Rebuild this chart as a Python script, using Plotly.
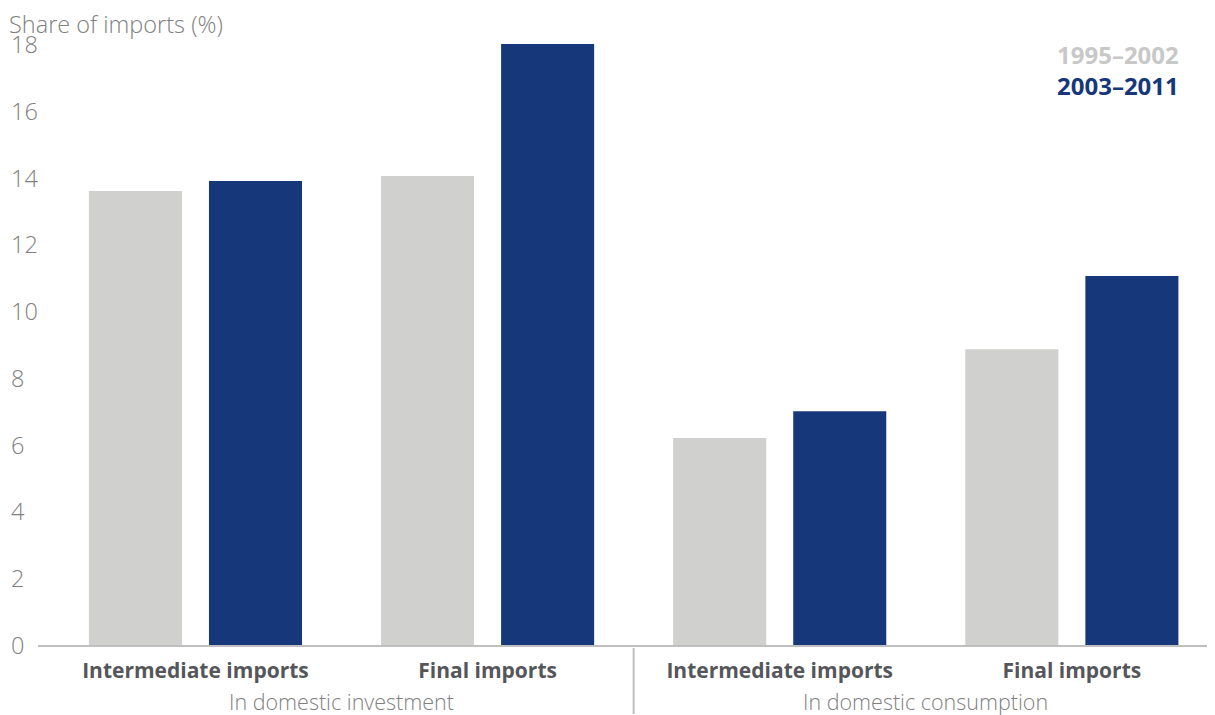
import plotly.graph_objects as go

positions = [0, 1, 2, 3]
categories = ["Intermediate imports", "Final imports", "Intermediate imports", "Final imports"]
groups = ["In domestic investment", "In domestic consumption"]
series_names = ["1995–2002", "2003–2011"]
values_1995_2002 = [13.6, 14.05, 6.2, 8.86]
values_2003_2011 = [13.9, 18.0, 7.0, 11.05]
y_ticks = [0, 2, 4, 6, 8, 10, 12, 14, 16, 18]

GRAY = "#d0d0ce"
BLUE = "#17377b"
FONT = "Open Sans"
W, H = 1207, 707          # page has 8px body margin
PL, PT, PB = 30, 36, 70   # plot area in figure pixels
PH = H - PT - PB

fig = go.Figure()
fig.add_trace(go.Bar(x=positions, y=values_1995_2002, name=series_names[0],
                     marker=dict(color=GRAY, line=dict(width=0))))
fig.add_trace(go.Bar(x=positions, y=values_2003_2011, name=series_names[1],
                     marker=dict(color=BLUE, line=dict(width=0))))

fig.update_layout(
    width=W, height=H,
    margin=dict(l=0, r=0, t=PT, b=PB, pad=0),
    paper_bgcolor="white", plot_bgcolor="white",
    barmode="group", bargap=0.178, bargroupgap=0.225,
    showlegend=False,
    font=dict(family=FONT, size=20, color="#808080"),
    xaxis=dict(
        domain=[PL / W, 1], range=[-0.539, 3.49],
        tickmode="array", tickvals=positions,
        ticktext=["<b>%s</b>" % c for c in categories],
        tickfont=dict(family=FONT, size=21, color="#55565a"),
        showgrid=False, zeroline=False,
        showline=True, linecolor="#bfbfbf", linewidth=2,
        ticks="", ticklabelstandoff=6,
    ),
    yaxis=dict(
        range=[0, 18], tickmode="array", tickvals=y_ticks,
        showticklabels=False,
        showgrid=False, zeroline=False, showline=False, ticks="",
    ),
)

# y tick labels, left aligned like the reference
for v in y_ticks:
    fig.add_annotation(text=str(v), xref="paper", yref="y", x=2 / W, y=v,
                       xanchor="left", yanchor="middle", showarrow=False,
                       borderpad=0,
                       font=dict(family=FONT, size=23.5, color="#808080", weight=300))

# y-axis title
fig.add_annotation(text="Share of imports (%)", xref="paper", yref="paper",
                   x=0, y=1.0 + 20 / PH, xanchor="left", yanchor="middle",
                   showarrow=False, borderpad=0,
                   font=dict(family=FONT, size=23.5, color="#808080", weight=300))

# group labels
for gx, label in zip([0.5, 2.5], groups):
    fig.add_annotation(text=label, xref="x", yref="paper", x=gx, y=-56 / PH,
                       xanchor="center", yanchor="middle", showarrow=False,
                       borderpad=0,
                       font=dict(family=FONT, size=21.5, color="#808080", weight=300))

# separator between groups
fig.add_shape(type="line", xref="x", yref="paper", x0=1.5, x1=1.5,
              y0=-3 / PH, y1=-69 / PH, line=dict(color="#bfbfbf", width=2))

# legend text
fig.add_annotation(text="<b>%s</b>" % series_names[0], xref="paper", yref="paper",
                   x=1172 / W, y=1 - (55 - 44) / PH, xanchor="right", yanchor="middle",
                   showarrow=False, borderpad=0,
                   font=dict(family=FONT, size=24, color="#c8c8c8"))
fig.add_annotation(text="<b>%s</b>" % series_names[1], xref="paper", yref="paper",
                   x=1172 / W, y=1 - (86 - 44) / PH, xanchor="right", yanchor="middle",
                   showarrow=False, borderpad=0,
                   font=dict(family=FONT, size=24, color=BLUE))

fig.write_html("out.html")
